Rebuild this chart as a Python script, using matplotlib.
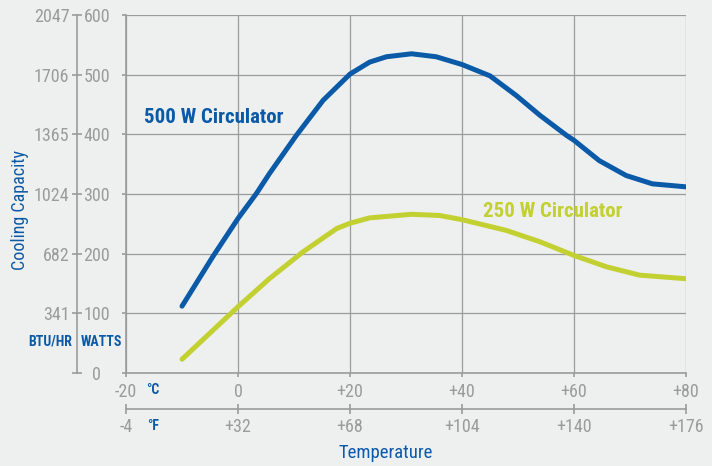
import matplotlib
matplotlib.use("Agg")
import matplotlib.pyplot as plt
from matplotlib import font_manager as fm

# cooling capacity in watts vs temperature in deg C
temp_500 = [-10, -4.5, 0, 3.3, 5.6, 10.4, 15.2, 20, 23.5, 26.5, 31, 35.4, 40, 45, 49.7, 53.9, 58.7, 60, 64.5, 69.3, 74, 80]
watts_500 = [112, 195, 259, 301, 334, 398, 457, 501, 521, 530, 535, 530, 517, 498, 465, 432, 398, 390, 356, 331, 317, 312]
temp_250 = [-10, 0, 5.6, 11.6, 17.6, 20, 23.5, 31, 36, 40, 47.9, 53.9, 60, 65.8, 71.7, 80]
watts_250 = [23, 111, 158, 203, 242, 251, 260, 266, 264, 257, 239, 220, 197, 178, 164, 158]

c_ticks = [-20, 0, 20, 40, 60, 80]
c_labels = ["-20", "0", "+20", "+40", "+60", "+80"]
f_ticks = [-4, 32, 68, 104, 140, 176]
f_labels = ["-4", "+32", "+68", "+104", "+140", "+176"]
w_ticks = [0, 100, 200, 300, 400, 500, 600]
btu_ticks = [0, 341, 682, 1024, 1365, 1706, 2047]
btu_labels = ["", "341", "682", "1024", "1365", "1706", "2047"]

BLUE = "#0a5aa8"
GREEN = "#c3d031"
GRAY = "#9b9b9b"
BG = "#eef0ef"

# condensed face like the original, whichever is installed
have = {f.name for f in fm.fontManager.ttflist}
fams = [f for f in ["Roboto Condensed", "Archivo Narrow", "Barlow Condensed", "Liberation Sans"] if f in have]
plt.rcParams['font.family'] = fams + ['DejaVu Sans']

fig = plt.figure(figsize=(7.12, 4.66), dpi=100, facecolor=BG)
W, H = 712, 466
x0, x1, y0, y1 = 126, 686, 373, 15
ax = fig.add_axes([x0 / W, 1 - y0 / H, (x1 - x0) / W, (y0 - y1) / H])
ax.set_facecolor(BG)
ax.set_xlim(-20, 80)
ax.set_ylim(0, 600)

ax.grid(True, color=GRAY, lw=0.9)
ax.set_axisbelow(True)
for s in ["top", "right"]:
    ax.spines[s].set_visible(False)
for s in ["left", "bottom"]:
    ax.spines[s].set_color(GRAY)
    ax.spines[s].set_linewidth(1.2)

ax.plot(temp_500, watts_500, color=BLUE, lw=3.6, solid_capstyle="round",
        solid_joinstyle="round", zorder=3)
ax.plot(temp_250, watts_250, color=GREEN, lw=3.6, solid_capstyle="round",
        solid_joinstyle="round", zorder=3)

# celsius axis
ax.set_xticks(c_ticks, c_labels)
ax.tick_params(axis="x", direction="out", length=3, width=1.2, color=GRAY,
               labelcolor=GRAY, labelsize=13, pad=4)

# watts labels, centered between the two vertical scales
ax.set_yticks(w_ticks, [str(w) for w in w_ticks])
ax.tick_params(axis="y", direction="out", length=3, width=1.2, color=GRAY,
               labelcolor=GRAY, labelsize=13, pad=18)
for lab in ax.get_yticklabels():
    lab.set_horizontalalignment("center")

# fahrenheit axis
fax = ax.secondary_xaxis(-36 / 358, functions=(lambda c: c * 1.8 + 32, lambda f: (f - 32) / 1.8))
fax.set_xticks(f_ticks, f_labels)
fax.spines["bottom"].set_color(GRAY)
fax.spines["bottom"].set_linewidth(1.2)
fax.tick_params(axis="x", direction="inout", length=7, width=1.2, color=GRAY,
                labelcolor=GRAY, labelsize=13, pad=3)

# btu/hr axis
bax = ax.secondary_yaxis(-49 / 560, functions=(lambda w: w * 3.41214, lambda b: b / 3.41214))
bax.set_yticks(btu_ticks, btu_labels)
bax.spines["left"].set_color(GRAY)
bax.spines["left"].set_linewidth(1.2)
bax.tick_params(axis="y", direction="inout", length=7, width=1.2, color=GRAY,
                labelcolor=GRAY, labelsize=13, pad=2)

# curve labels
ax.text(-16.8, 429, "500 W Circulator", color=BLUE, fontsize=15, fontweight="bold",
        va="center", ha="left")
ax.text(43.7, 271, "250 W Circulator", color=GREEN, fontsize=15, fontweight="bold",
        va="center", ha="left")

# unit labels
def fig_text(x, y, s, **kw):
    fig.text(x / W, 1 - y / H, s, **kw)

fig_text(146, 390, "°C", color=BLUE, fontsize=10, fontweight="bold", ha="left", va="center")
fig_text(147, 426, "°F", color=BLUE, fontsize=10, fontweight="bold", ha="left", va="center")
fig_text(50, 342, "BTU/HR", color=BLUE, fontsize=10, fontweight="bold", ha="center", va="center")
fig_text(101, 342, "WATTS", color=BLUE, fontsize=10, fontweight="bold", ha="center", va="center")
fig_text(20, 210, "Cooling Capacity", color=BLUE, fontsize=13, rotation=90, ha="center", va="center")
fig_text(386, 453, "Temperature", color=BLUE, fontsize=13.5, ha="center", va="center")

fig.savefig("out.png", dpi=100, facecolor=BG)
